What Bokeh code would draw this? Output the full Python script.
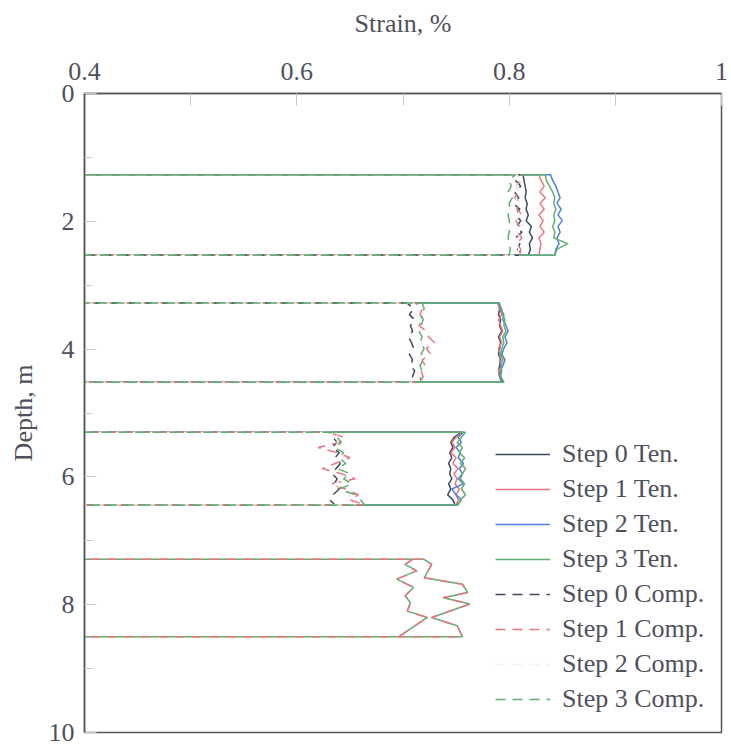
from bokeh.plotting import figure
from bokeh.models import Range1d, FixedTicker, Legend, LegendItem
from bokeh.embed import file_html
from bokeh.resources import INLINE

NAN = float("nan")

# depths (m) of gauge readings in each instrumented zone
depth_b1 = [1.27, 1.36, 1.45, 1.54, 1.63, 1.72, 1.81, 1.90, 1.99, 2.08, 2.17, 2.26, 2.35, 2.44, 2.53]
depth_b2 = [3.28, 3.37, 3.46, 3.54, 3.63, 3.72, 3.81, 3.90, 3.99, 4.08, 4.17, 4.26, 4.34, 4.43, 4.52]
depth_b3 = [5.30, 5.38, 5.46, 5.54, 5.62, 5.70, 5.79, 5.87, 5.95, 6.03, 6.11, 6.19, 6.28, 6.36, 6.44]
depth_b4a = [7.29, 7.37, 7.58, 7.63, 7.68, 7.81, 7.89, 7.99, 8.20, 8.33, 8.50]
depth_b4b = [7.29, 7.37, 7.47, 7.60, 7.73, 7.86, 7.97, 8.10, 8.20, 8.50]

# strains (%) - tension
ten0_b1 = [0.813, 0.814, 0.815, 0.816, 0.815, 0.817, 0.816, 0.818, 0.816, 0.821, 0.819, 0.822, 0.819, 0.820, 0.818]
ten0_b2 = [0.790, 0.791, 0.790, 0.792, 0.791, 0.793, 0.790, 0.792, 0.791, 0.790, 0.792, 0.791, 0.790, 0.791, 0.793]
ten0_b3 = [0.755, 0.748, 0.745, 0.747, 0.744, 0.746, 0.743, 0.745, 0.744, 0.746, 0.743, 0.745, 0.742, 0.747, 0.749]
ten1_b1 = [0.828, 0.830, 0.833, 0.829, 0.834, 0.829, 0.833, 0.828, 0.832, 0.829, 0.833, 0.828, 0.830, 0.829, 0.828]
ten1_b2 = [0.789, 0.791, 0.793, 0.790, 0.792, 0.794, 0.791, 0.793, 0.790, 0.792, 0.791, 0.793, 0.790, 0.792, 0.795]
ten1_b3 = [0.756, 0.750, 0.746, 0.749, 0.745, 0.750, 0.747, 0.752, 0.748, 0.751, 0.749, 0.753, 0.750, 0.752, 0.750]
ten2_b1 = [0.839, 0.841, 0.844, 0.846, 0.848, 0.845, 0.849, 0.846, 0.850, 0.846, 0.848, 0.845, 0.847, 0.844, 0.843]
ten2_b2 = [0.791, 0.792, 0.795, 0.794, 0.797, 0.799, 0.796, 0.798, 0.795, 0.793, 0.796, 0.794, 0.792, 0.791, 0.794]
ten2_b3 = [0.757, 0.752, 0.755, 0.750, 0.754, 0.752, 0.757, 0.753, 0.756, 0.752, 0.757, 0.746, 0.750, 0.755, 0.751]
ten3_b1 = [0.834, 0.835, 0.838, 0.841, 0.843, 0.842, 0.844, 0.842, 0.843, 0.841, 0.843, 0.842, 0.855, 0.845, 0.843]
ten3_b2 = [0.790, 0.793, 0.794, 0.796, 0.795, 0.797, 0.794, 0.795, 0.793, 0.792, 0.794, 0.792, 0.793, 0.792, 0.795]
ten3_b3 = [0.759, 0.755, 0.751, 0.756, 0.753, 0.758, 0.754, 0.759, 0.756, 0.754, 0.758, 0.755, 0.759, 0.754, 0.752]
ten3_b4a = [0.720, 0.727, 0.720, 0.738, 0.756, 0.761, 0.738, 0.763, 0.727, 0.751, 0.756]
ten3_b4b = [0.709, 0.702, 0.713, 0.694, 0.710, 0.702, 0.707, 0.704, 0.723, 0.696]

# strains (%) - compression
comp0_b1 = [0.810, 0.806, 0.811, 0.805, 0.809, 0.804, 0.810, 0.806, 0.811, 0.807, 0.812, 0.806, 0.810, 0.808, 0.812]
comp0_b2 = [0.704, 0.710, 0.706, 0.711, 0.707, 0.709, 0.705, 0.708, 0.710, 0.706, 0.709, 0.707, 0.711, 0.709, 0.710]
comp0_b3 = [0.630, 0.634, 0.638, 0.633, 0.640, 0.636, 0.641, 0.637, 0.633, 0.638, 0.635, 0.640, 0.634, 0.631, 0.636]
comp1_b1 = [0.808, 0.812, 0.806, 0.810, 0.805, 0.811, 0.807, 0.812, 0.806, 0.810, 0.808, 0.812, 0.807, 0.811, 0.810]
comp1_b2 = [0.712, 0.718, 0.716, 0.720, 0.715, 0.722, 0.724, 0.730, 0.722, 0.726, 0.718, 0.721, 0.717, 0.719, 0.716]
comp1_b3 = [0.628, 0.645, 0.640, 0.620, 0.638, 0.650, 0.636, 0.624, 0.642, 0.655, 0.632, 0.646, 0.658, 0.650, 0.665]
comp1_b4a = [0.720, 0.727, 0.720, 0.738, 0.756, 0.761, 0.738, 0.763, 0.727, 0.751, 0.756]
comp1_b4b = [0.709, 0.702, 0.713, 0.694, 0.710, 0.702, 0.707, 0.704, 0.723, 0.696]
comp2_b1 = [0.807, 0.810, 0.806, 0.809, 0.806, 0.810, 0.807, 0.810, 0.806, 0.809, 0.807, 0.810, 0.807, 0.809, 0.808]
comp2_b2 = [0.710, 0.714, 0.712, 0.716, 0.713, 0.717, 0.715, 0.718, 0.714, 0.716, 0.713, 0.715, 0.713, 0.714, 0.713]
comp2_b3 = [0.632, 0.640, 0.638, 0.630, 0.640, 0.645, 0.638, 0.632, 0.640, 0.648, 0.636, 0.644, 0.650, 0.648, 0.655]
comp3_b1 = [0.806, 0.800, 0.802, 0.799, 0.803, 0.800, 0.801, 0.799, 0.800, 0.801, 0.800, 0.799, 0.800, 0.801, 0.800]
comp3_b2 = [0.718, 0.720, 0.716, 0.719, 0.717, 0.715, 0.718, 0.716, 0.720, 0.717, 0.719, 0.716, 0.718, 0.716, 0.717]
comp3_b3 = [0.632, 0.638, 0.642, 0.636, 0.644, 0.640, 0.646, 0.638, 0.650, 0.644, 0.652, 0.640, 0.655, 0.660, 0.664]

labels = ["Step 0 Ten.", "Step 1 Ten.", "Step 2 Ten.", "Step 3 Ten.",
          "Step 0 Comp.", "Step 1 Comp.", "Step 2 Comp.", "Step 3 Comp."]
colors = ["#3d4a62", "#ea7480", "#4f80dc", "#5eb06f",
          "#3d4a62", "#ea7480", "#f3f3f3", "#5eb06f"]


def build(blocks, extra=None):
    xs, ys = [], []
    for depths, strains in blocks:
        xs += [0.0] + strains + [0.0]
        ys += [depths[0]] + depths + [depths[-1]]
    if extra is not None:
        depths, strains = extra
        xs += [NAN] + strains
        ys += [NAN] + depths
    return xs, ys


series = [
    build([(depth_b1, ten0_b1), (depth_b2, ten0_b2), (depth_b3, ten0_b3)]),
    build([(depth_b1, ten1_b1), (depth_b2, ten1_b2), (depth_b3, ten1_b3)]),
    build([(depth_b1, ten2_b1), (depth_b2, ten2_b2), (depth_b3, ten2_b3)]),
    build([(depth_b1, ten3_b1), (depth_b2, ten3_b2), (depth_b3, ten3_b3), (depth_b4a, ten3_b4a)],
          (depth_b4b, ten3_b4b)),
    build([(depth_b1, comp0_b1), (depth_b2, comp0_b2), (depth_b3, comp0_b3)]),
    build([(depth_b1, comp1_b1), (depth_b2, comp1_b2), (depth_b3, comp1_b3), (depth_b4a, comp1_b4a)],
          (depth_b4b, comp1_b4b)),
    build([(depth_b1, comp2_b1), (depth_b2, comp2_b2), (depth_b3, comp2_b3)]),
    build([(depth_b1, comp3_b1), (depth_b2, comp3_b2), (depth_b3, comp3_b3)]),
]

FONT = "Liberation Serif"
TXT = "#50505c"

p = figure(width=731, height=747, output_backend="svg", toolbar_location=None,
           x_range=Range1d(0.4, 1.0), y_range=Range1d(10, 0),
           x_axis_location="above", min_border_left=84, min_border_right=10,
           min_border_top=93, min_border_bottom=15)
p.xgrid.visible = False
p.ygrid.visible = False
p.background_fill_color = "white"
p.border_fill_color = "white"
p.outline_line_color = "#555555"
p.outline_line_width = 1.5

renderers = []
for i, ((xs, ys), lab, col) in enumerate(zip(series, labels, colors)):
    dash = "solid" if i < 4 else "10 7"
    r = p.line(xs, ys, line_color=col, line_width=1.5, line_dash=dash)
    renderers.append((lab, r))

xa = p.xaxis[0]
xa.ticker = FixedTicker(ticks=[0.4, 0.6, 0.8, 1.0], minor_ticks=[0.5, 0.7, 0.9])
xa.major_label_overrides = {1.0: "1"}
xa.axis_label = "Strain, %"
ya = p.yaxis[0]
ya.ticker = FixedTicker(ticks=[0, 2, 4, 6, 8, 10], minor_ticks=[1, 3, 5, 7, 9])
ya.axis_label = "Depth, m"

for ax in (xa, ya):
    ax.axis_line_color = "#555555"
    ax.axis_line_width = 1.5
    ax.major_tick_in = 12
    ax.major_tick_out = 0
    ax.minor_tick_out = 0
    ax.major_tick_line_color = "#c8c8c8"
    ax.minor_tick_line_color = "#c8c8c8"
    ax.major_label_text_font = FONT
    ax.major_label_text_font_size = "26px"
    ax.major_label_text_color = TXT
    ax.axis_label_text_font = FONT
    ax.axis_label_text_font_size = "26px"
    ax.axis_label_text_font_style = "normal"
    ax.axis_label_text_color = TXT
xa.minor_tick_in = 12
ya.minor_tick_in = 8
xa.major_label_standoff = 14
ya.major_label_standoff = 10
xa.axis_label_standoff = 22
ya.axis_label_standoff = 8

legend = Legend(items=[LegendItem(label=l, renderers=[r]) for l, r in renderers],
                location=(411, 18), padding=0, margin=0, spacing=5,
                glyph_width=55, glyph_height=30, label_height=30, label_standoff=12,
                border_line_color=None, background_fill_alpha=0.0,
                label_text_font=FONT, label_text_font_size="26px", label_text_color=TXT)
p.add_layout(legend)

open("out.html", "w").write(file_html(p, INLINE))
